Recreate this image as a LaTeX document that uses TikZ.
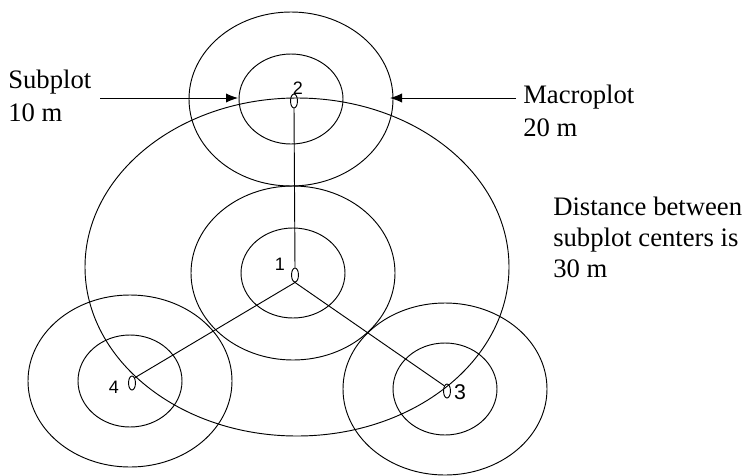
\documentclass[tikz,border=0pt]{standalone}
\usepackage{fontspec}
\setmainfont{Liberation Serif}
\newfontfamily\labfont{Liberation Sans}
\usetikzlibrary{
  shapes.geometric,      % small ellipse markers at plot centres
  arrows.meta
}

\begin{document}
\begin{tikzpicture}[x=0.75pt,y=-0.75pt,
    plotline/.style={line width=0.7pt},
    centremark/.style={draw,ellipse,line width=0.7pt,inner sep=0pt,minimum width=5.2pt,minimum height=10.5pt},
    numlab/.style={font=\labfont\fontsize{13.5}{14}\selectfont,inner sep=0pt},
    note/.style={font=\fontsize{20}{24}\selectfont,anchor=base west,inner sep=0pt}]
            \useasboundingbox (0,0) rectangle (745,475);
            % plot centres
            \coordinate (c1) at (293,273);
            \coordinate (c2) at (291,99);
            \coordinate (c3) at (445,389);
            \coordinate (c4) at (130,381);
            % macroplot of the whole cluster
            \draw[plotline] (297,267) ellipse [x radius=212, y radius=169];
            % macroplots and subplots
            \draw[plotline] (c1) ellipse [x radius=102, y radius=87];
            \draw[plotline] (c1) ellipse [x radius=52, y radius=45];
            \draw[plotline] (c2) ellipse [x radius=102, y radius=87];
            \draw[plotline] (c2) ellipse [x radius=52, y radius=45];
            \draw[plotline] (c3) ellipse [x radius=102, y radius=86];
            \draw[plotline] (c3) ellipse [x radius=52, y radius=46];
            \draw[plotline] (c4) ellipse [x radius=102, y radius=86];
            \draw[plotline] (c4) ellipse [x radius=52, y radius=46];
            % centre markers
            \node[centremark] (p1) at (295,275) {};
            \node[centremark] (p2) at (294,101) {};
            \node[centremark] (p3) at (447,391) {};
            \node[centremark] (p4) at (132,383) {};
            \node[numlab] (n1) at (280,264) {1};
            \node[numlab] (n2) at (298,88) {2};
            \node[numlab,font=\labfont\fontsize{16}{18}\selectfont] (n3) at (460,392) {3};
            \node[numlab] (n4) at (114,387) {4};
            % lines between centres
            \draw[plotline] (p1.north) -- (p2.south);
            \draw[plotline] (p1.south) -- (p4.north east);
            \draw[plotline] (p1.south) -- (p3.north west);
            % labels with arrows
            \node[note] (sub1) at (8,88) {Subplot};
            \node[note] (sub2) at (8,121) {10 m};
            \node[note] (macro1) at (523,103) {Macroplot};
            \node[note] (macro2) at (523,136) {20 m};
            \node[note] (dist1) at (553,215) {Distance between};
            \node[note] (dist2) at (553,246) {subplot centers is};
            \node[note] (dist3) at (553,277) {30 m};
            \coordinate (subtail) at (100,98);
            \coordinate (subhead) at (238,98);
            \coordinate (macrotail) at (516,98);
            \coordinate (macrohead) at (390,98);
            \draw[plotline,-{Latex[length=9pt,width=7pt]}] (subtail) -- (subhead);
            \draw[plotline,-{Latex[length=9pt,width=7pt]}] (macrotail) -- (macrohead);
\end{tikzpicture}
\end{document}
